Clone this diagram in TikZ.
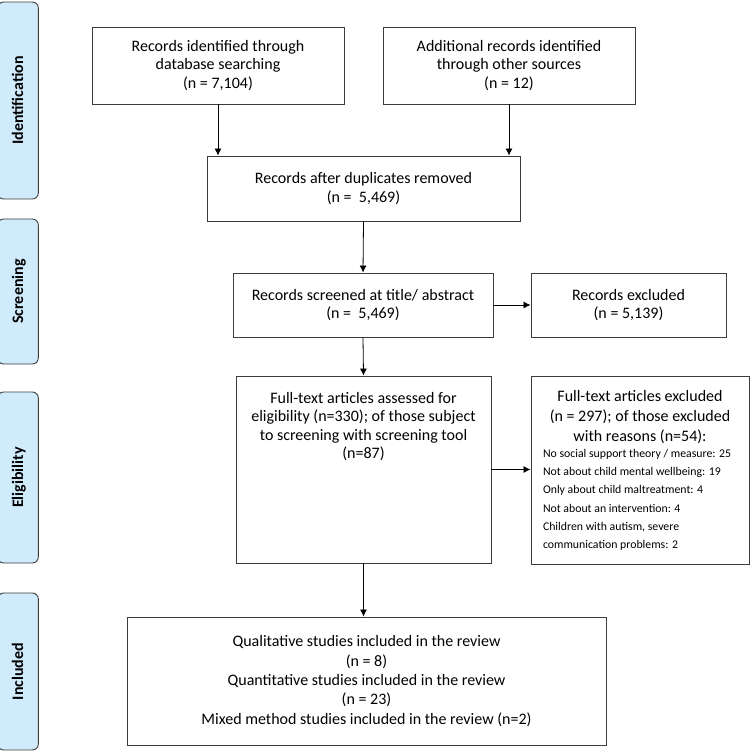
\documentclass[tikz,border=0pt]{standalone}
\usepackage{fontspec}
\setmainfont{Carlito}
\usetikzlibrary{arrows.meta}
\definecolor{phase}{HTML}{D0EBFC}
\definecolor{edge}{HTML}{3C3C3C}
\begin{document}
\begin{tikzpicture}[x=1pt,y=-1pt,>={Latex[length=7pt,width=7pt]},
	box/.style={draw=edge,line width=0.9pt,inner sep=0pt,align=center,font=\fontsize{16}{18.6}\selectfont},
	phasebox/.style={draw=edge,fill=phase,line width=0.9pt,rounded corners=6pt,rotate=90,text height=22pt,text depth=12pt,font=\fontsize{16}{18}\selectfont\bfseries},
	arr/.style={->,line width=0.8pt}]
		\useasboundingbox (0,0) rectangle (750,751);
		% phases
		\node[phasebox,minimum width=197pt] (ident) at (18,100.5) {Identification};
		\node[phasebox,minimum width=145pt] (screen) at (18,291.5) {Screening};
		\node[phasebox,minimum width=171pt] (elig) at (18,477.5) {Eligibility};
		\node[phasebox,minimum width=157pt] (incl) at (18,671.5) {Included};
		% boxes
		\node[box,minimum width=252pt,minimum height=77pt] (dbase) at (218,65.5) {Records identified through\\database searching\\(n = 7,104)};
		\node[box,minimum width=252pt,minimum height=77pt] (other) at (509,65.5) {Additional records identified\\through other sources\\(n = 12)};
		\node[box,minimum width=313pt,minimum height=65pt] (dupl) at (363.5,188.5) {Records after duplicates removed\\(n = ~5,469)};
		\node[box,minimum width=260pt,minimum height=64pt] (titab) at (363,305) {Records screened at title/ abstract\\(n = ~5,469)};
		\node[box,minimum width=195pt,minimum height=64pt] (recex) at (628.5,305) {Records excluded\\(n = 5,139)};
		\node[box,minimum width=255pt,minimum height=187pt] (fulltext) at (363.5,469.5) {};
		\node[box,draw=none,anchor=north] (fulltextT) at ([yshift=-16pt]fulltext.north) {Full-text articles assessed for\\eligibility (n=330); of those subject\\to screening with screening tool\\(n=87)};
		\node[box,minimum width=218pt,minimum height=188pt] (ftex) at (640,470) {};
		\node[box,draw=none,anchor=north,font=\fontsize{16}{20}\selectfont] (ftexT) at ([yshift=-14pt]ftex.north) {Full-text articles excluded\\(n = 297); of those excluded\\with reasons (n=54):};
		\node[box,draw=none,anchor=north west,align=left,font=\fontsize{11.8}{18.3}\selectfont] (ftexR) at ([xshift=12pt,yshift=-73pt]ftex.north west) {No social support theory / measure: 25\\Not about child mental wellbeing: 19\\Only about child maltreatment: 4\\Not about an intervention: 4\\Children with autism, severe\\communication problems: 2};
		\node[box,minimum width=479pt,minimum height=128pt,font=\fontsize{16}{19.3}\selectfont] (final) at (366.5,681) {Qualitative studies included in the review\\(n = 8)\\Quantitative studies included in the review\\(n = 23)\\Mixed method studies included in the review (n=2)};
		% arrows
		\draw[arr] (dbase.south) -- (dbase.south |- dupl.north);
		\draw[arr] (other.south) -- (other.south |- dupl.north);
		\draw[arr] (dupl.south) -- (titab.north);
		\draw[arr] (titab.east) -- (recex.west);
		\draw[arr] (titab.south) -- (fulltext.north);
		\draw[arr] (fulltext.east) -- (fulltext.east -| ftex.west);
		\draw[arr] (fulltext.south) -- (fulltext.south |- final.north);
\end{tikzpicture}
\end{document}
